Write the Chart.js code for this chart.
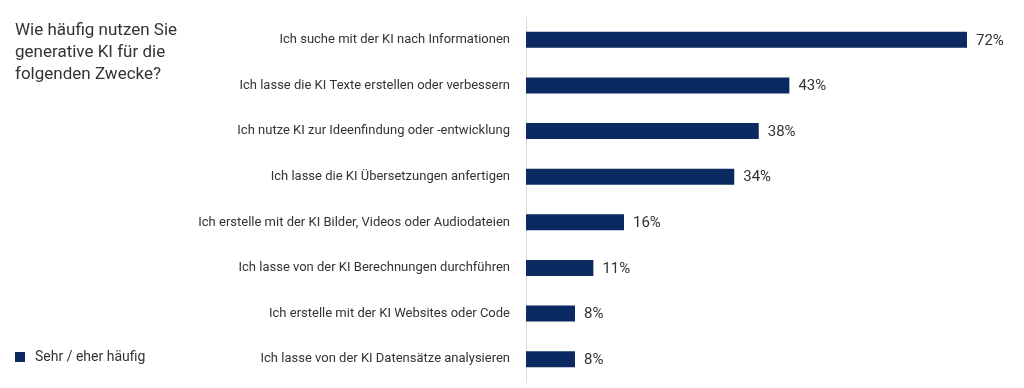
<!DOCTYPE html>
<html lang="de">
<head>
<meta charset="UTF-8">
<title>KI Nutzung</title>
<style>
    body{ margin:0; background:#fff; font-family:Roboto, sans-serif; color:#333; }
    #wrap{ position:relative; width:1024px; height:388px; }
    canvas{ display:block; }
    #title{ position:absolute; left:15px; top:18px; font-size:17px; line-height:22px; color:#333; }
    #legend{ position:absolute; left:15px; top:348px; font-size:14px; color:#333; }
    #legend span{ display:inline-block; width:10px; height:10px; background:#0b2a62; margin-right:10px; vertical-align:-1px; }
</style>
</head>
<body>
<div id="wrap">
    <canvas id="myc" width="1024" height="388"></canvas>
    <div id="title">Wie häufig nutzen Sie<br>generative KI für die<br>folgenden Zwecke?</div>
    <div id="legend"><span></span>Sehr / eher häufig</div>
</div>
<script src="https://cdn.jsdelivr.net/npm/chart.js"></script>
<script>
    var categories = [
        'Ich suche mit der KI nach Informationen',
        'Ich lasse die KI Texte erstellen oder verbessern',
        'Ich nutze KI zur Ideenfindung oder -entwicklung',
        'Ich lasse die KI Übersetzungen anfertigen',
        'Ich erstelle mit der KI Bilder, Videos oder Audiodateien',
        'Ich lasse von der KI Berechnungen durchführen',
        'Ich erstelle mit der KI Websites oder Code',
        'Ich lasse von der KI Datensätze analysieren'
    ];
    var values = [72, 43, 38, 34, 16, 11, 8, 8];
    var seriesName = 'Sehr / eher häufig';

    // writes "xx%" behind every bar
    var valueLabels = {
        id: 'valueLabels',
        afterDatasetsDraw: function(chart){
            var ctx = chart.ctx;
            ctx.save();
            ctx.font = '15px Roboto, sans-serif';
            ctx.fillStyle = '#333';
            ctx.textBaseline = 'middle';
            chart.getDatasetMeta(0).data.forEach(function(bar, i){
                ctx.fillText(values[i] + '%', bar.x + 9, bar.y + 1);
            });
            ctx.restore();
        }
    };

    const ctx = document.getElementById('myc').getContext('2d');
    const myChart = new Chart(ctx, {
        type: 'bar',
        data: {
            labels: categories,
            datasets: [{
                label: seriesName,
                data: values,
                backgroundColor: '#0b2a62',
                borderWidth: 0,
                barPercentage: 0.35,
                categoryPercentage: 1
            }]
        },
        options: {
            indexAxis: 'y',
            responsive: false,
            animation: false,
            layout: { padding: { top: 17, bottom: 6, right: 8, left: 0 } },
            plugins: { legend: { display: false }, tooltip: { enabled: false } },
            scales: {
                x: { display: false, min: 0, max: 80 },
                y: {
                    afterFit: function(scale){
                        scale.width = 526;
                        scale.paddingTop = 0;
                        scale.paddingBottom = 0;
                    },
                    grid: { display: false, drawTicks: false },
                    border: { display: true, color: '#d9d9d9', width: 1 },
                    ticks: { color: '#333', padding: 16, font: { family: 'Roboto', size: 13 } }
                }
            }
        },
        plugins: [valueLabels]
    });
</script>
</body>
</html>
